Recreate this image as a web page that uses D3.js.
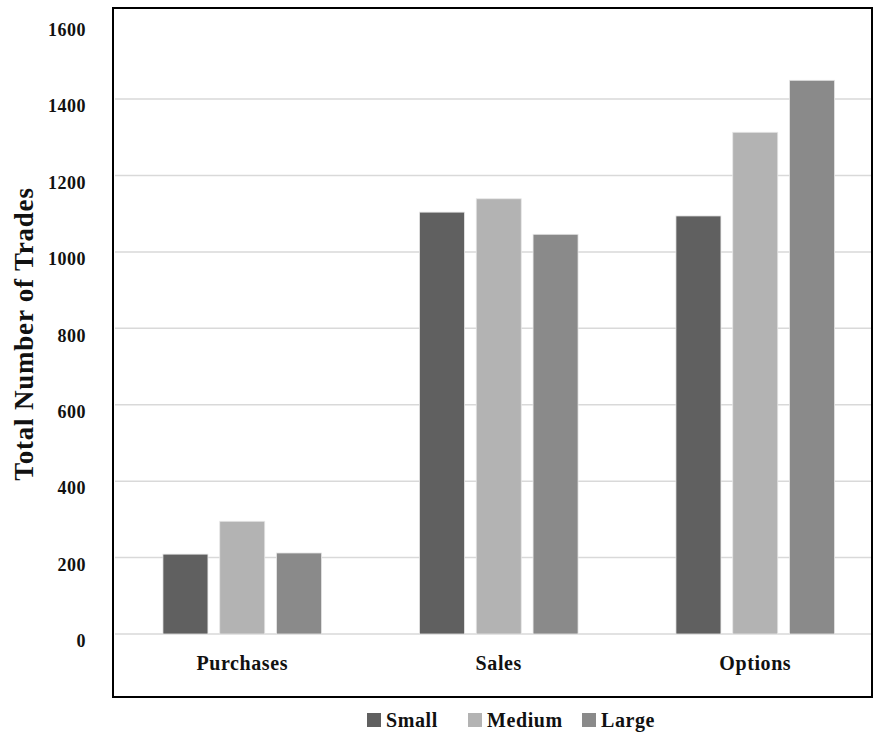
<!DOCTYPE html>
<html>
<head>
<meta charset="utf-8">
<script src="https://cdn.jsdelivr.net/npm/d3@7"></script>
<style>
body { margin: 0; background: #fff; }
svg { display: block; }
text { font-family: "Liberation Serif", "DejaVu Serif", serif; font-weight: bold; fill: #111; }
</style>
</head>
<body>
<svg id="chart" width="873" height="734"></svg>
<script>
const categories = ["Purchases", "Sales", "Options"];
const seriesNames = ["Small", "Medium", "Large"];
const smallValues = [209, 1104, 1094];
const mediumValues = [295, 1139, 1313];
const largeValues = [212, 1046, 1449];
const yTicks = [0, 200, 400, 600, 800, 1000, 1200, 1400, 1600];
const colors = ["#606060", "#b3b3b3", "#8a8a8a"];

const seriesValues = [smallValues, mediumValues, largeValues];
const data = categories.map((c, i) => ({
  category: c,
  values: seriesNames.map((s, j) => ({ series: s, value: seriesValues[j][i] }))
}));

const svg = d3.select("#chart");
const frame = { left: 113, top: 8, right: 872, bottom: 697 };

const y = d3.scaleLinear().domain([0, 1600]).range([634, 22.6]);
const x0 = d3.scaleBand().domain(categories).range([114, 883.5]).padding(0);
const x1 = d3.scaleBand().domain(seriesNames).range([0, 158.6]).paddingInner(0.208).paddingOuter(0);
const color = d3.scaleOrdinal().domain(seriesNames).range(colors);

// gridlines
svg.append("g")
  .selectAll("line")
  .data(yTicks.filter(t => t <= 1400))
  .join("line")
  .attr("x1", frame.left + 2)
  .attr("x2", frame.right)
  .attr("y1", d => y(d))
  .attr("y2", d => y(d))
  .attr("stroke", "#d9d9d9")
  .attr("stroke-width", 1.5);

// y axis labels
const yAxis = d3.axisLeft(y).tickValues(yTicks).tickFormat(d3.format("d")).tickSize(0).tickPadding(0);
const gy = svg.append("g").attr("transform", "translate(86,7)").call(yAxis);
gy.select(".domain").remove();
gy.selectAll("text")
  .style("font-size", "18px")
  .style("letter-spacing", "0.5px")
  .style("font-family", "'Liberation Serif', serif")
  .style("font-weight", "bold")
  .attr("fill", "#111");

// bars
const groups = svg.append("g")
  .selectAll("g")
  .data(data)
  .join("g")
  .attr("transform", d => `translate(${x0(d.category) + x0.bandwidth() / 2 - 79.3},0)`);

groups.selectAll("rect")
  .data(d => d.values)
  .join("rect")
  .attr("x", d => x1(d.series))
  .attr("width", x1.bandwidth())
  .attr("y", d => y(d.value))
  .attr("height", d => y(0) - y(d.value))
  .attr("fill", d => color(d.series))
  .attr("stroke", "#e6e6e6")
  .attr("stroke-width", 0.8);

// category labels
const xAxis = d3.axisBottom(x0).tickSize(0).tickPadding(0);
const gx = svg.append("g").attr("transform", "translate(0,670)").call(xAxis);
gx.select(".domain").remove();
gx.selectAll("text")
  .style("font-size", "20px")
  .style("letter-spacing", "0.6px")
  .style("font-family", "'Liberation Serif', serif")
  .style("font-weight", "bold")
  .attr("fill", "#111")
  .attr("dy", "0");

// frame
svg.append("rect")
  .attr("x", frame.left)
  .attr("y", frame.top)
  .attr("width", frame.right - frame.left)
  .attr("height", frame.bottom - frame.top)
  .attr("fill", "none")
  .attr("stroke", "#000")
  .attr("stroke-width", 2);

// y title
svg.append("text")
  .attr("transform", "translate(33,334) rotate(-90)")
  .attr("text-anchor", "middle")
  .style("font-size", "27px")
  .style("letter-spacing", "0.8px")
  .text("Total Number of Trades");

// legend
const legendX = [367, 468, 582];
const legend = svg.append("g")
  .selectAll("g")
  .data(seriesNames)
  .join("g")
  .attr("transform", (d, i) => `translate(${legendX[i]},713)`);
legend.append("rect").attr("width", 14).attr("height", 14).attr("fill", d => color(d));
legend.append("text").attr("x", 19).attr("y", 14).style("font-size", "20px").style("letter-spacing", "0.6px").text(d => d);
</script>
</body>
</html>
